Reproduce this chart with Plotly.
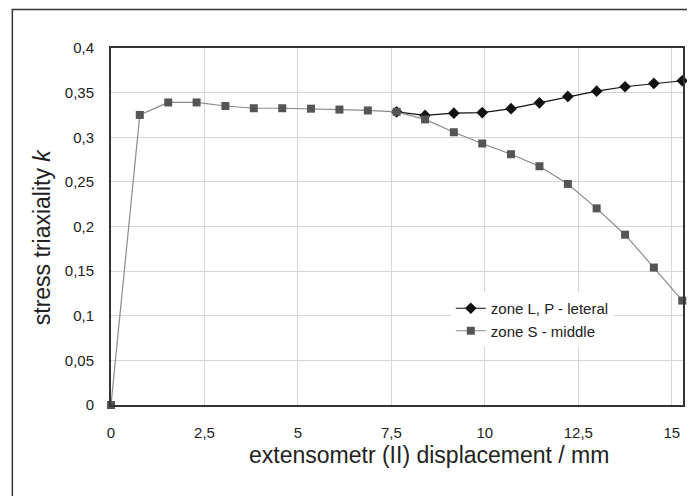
import plotly.graph_objects as go

displacement = [0, 0.77, 1.53, 2.29, 3.06, 3.82, 4.58, 5.35, 6.11, 6.87, 7.64,
                8.4, 9.17, 9.93, 10.7, 11.46, 12.22, 12.99, 13.75, 14.52, 15.28]
k_middle = [0, 0.325, 0.339, 0.339, 0.335, 0.3325, 0.3325, 0.332, 0.331, 0.330, 0.3285,
            0.320, 0.3056, 0.293, 0.281, 0.2675, 0.2477, 0.2203, 0.1908, 0.154, 0.117]
# lateral zone: visible where it departs from the middle zone curve
displacement_lateral = [7.64, 8.4, 9.17, 9.93, 10.7, 11.46, 12.22, 12.99, 13.75, 14.52, 15.28]
k_lateral = [0.3285, 0.3244, 0.327, 0.3277, 0.332, 0.3386, 0.3457, 0.3516, 0.3566, 0.3603, 0.3633]
series_names = ["zone L, P - leteral", "zone S - middle"]
x_ticks = [0, 2.5, 5, 7.5, 10, 12.5, 15]
y_ticks = [0, 0.05, 0.1, 0.15, 0.2, 0.25, 0.3, 0.35, 0.4]

FONT = "Liberation Sans, Arial"

fig = go.Figure()
fig.add_trace(go.Scatter(
    x=displacement_lateral, y=k_lateral, name=series_names[0], mode="lines+markers",
    line=dict(color="#111111", width=1.2),
    marker=dict(symbol="diamond", size=9, color="#111111"),
    cliponaxis=False))
fig.add_trace(go.Scatter(
    x=displacement, y=k_middle, name=series_names[1], mode="lines+markers",
    line=dict(color="#8a8a8a", width=1.2),
    marker=dict(symbol="square", size=8, color="#555555"),
    cliponaxis=False))

axis_common = dict(showline=True, mirror=True, linewidth=2, linecolor="#333333",
                   showgrid=True, gridcolor="#d6d6d6", gridwidth=1, zeroline=False,
                   ticks="", tickfont=dict(family=FONT, size=15, color="#222222"))

fig.update_xaxes(range=[0, 15.3], tickvals=x_ticks, ticklabelstandoff=13, **axis_common)
fig.update_yaxes(range=[0, 0.4], tickvals=y_ticks, ticklabelstandoff=12, **axis_common)

fig.add_annotation(text="extensometr (II) displacement / mm", xref="paper", yref="paper",
                   x=(430 - 111) / 574, y=-(455 - 405) / 357, xanchor="center", yanchor="middle",
                   showarrow=False, font=dict(family=FONT, size=23, color="#222222"))
fig.add_annotation(text="stress triaxiality <i>k</i>", xref="paper", yref="paper",
                   x=-(111 - 42) / 574, y=(405 - 237) / 357, xanchor="center", yanchor="middle",
                   textangle=-90, showarrow=False,
                   font=dict(family=FONT, size=23, color="#222222"))

fig.add_shape(type="rect", xref="paper", yref="paper",
              x0=-(111 - 12) / 574, y0=-0.5, x1=1.2, y1=(405 - 9.5) / 357,
              line=dict(color="#333333", width=1.5), layer="below")

fig.update_layout(
    width=687, height=488,
    margin=dict(l=103, r=10, t=40, b=91),
    paper_bgcolor="white", plot_bgcolor="white",
    separators=", ",
    showlegend=True,
    legend=dict(x=(452 - 111) / 574, y=(405 - 292) / 357, xanchor="left", yanchor="top",
                bgcolor="white", borderwidth=0, itemwidth=30, tracegroupgap=0,
                font=dict(family=FONT, size=15, color="#222222")),
)

fig.write_html("out.html")
